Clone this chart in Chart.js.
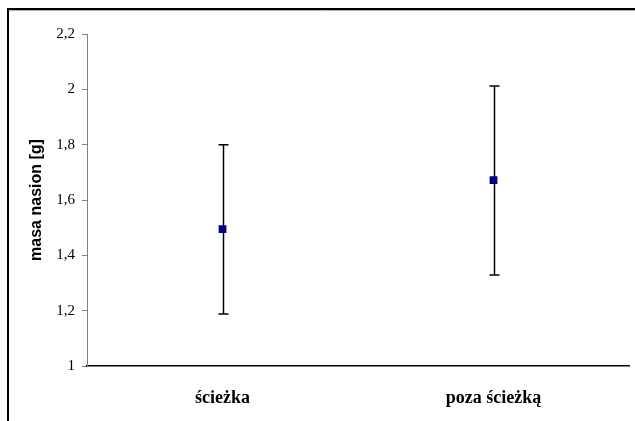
<!DOCTYPE html>
<html>
<head>
<meta charset="utf-8">
<script src="https://cdn.jsdelivr.net/npm/chart.js@4/dist/chart.umd.min.js"></script>
<style>
html,body{margin:0;padding:0;background:#fff;}
#wrap{width:635px;height:421px;position:relative;}
</style>
</head>
<body>
<div id="wrap"><canvas id="c" width="635" height="421"></canvas></div>
<script>
const categories = ['ścieżka', 'poza ścieżką'];
const means = [1.495, 1.672];
const lower = [1.188, 1.329];
const upper = [1.800, 2.012];
const yMin = 1, yMax = 2.2, yStep = 0.2;
const yTitle = 'masa nasion [g]';

const frame = {
  id: 'frame',
  afterDraw(chart) {
    const ctx = chart.ctx;
    ctx.save();
    ctx.strokeStyle = '#000';
    ctx.lineWidth = 2;
    ctx.beginPath();
    ctx.moveTo(8, 421);
    ctx.lineTo(8, 9);
    ctx.lineTo(635, 9);
    ctx.stroke();
    ctx.strokeStyle = '#b0b0b0';
    ctx.lineWidth = 1;
    ctx.beginPath();
    ctx.moveTo(9.5, 10.5);
    ctx.lineTo(635, 10.5);
    ctx.stroke();
    ctx.restore();
  }
};

const errorBars = {
  id: 'errorBars',
  beforeDatasetsDraw(chart) {
    const ctx = chart.ctx;
    const xs = chart.scales.x, ys = chart.scales.y;
    ctx.save();
    ctx.strokeStyle = '#000';
    ctx.lineWidth = 1.5;
    for (let i = 0; i < categories.length; i++) {
      const x = Math.round(xs.getPixelForValue(i)) + 0.5;
      const yl = ys.getPixelForValue(lower[i]);
      const yh = ys.getPixelForValue(upper[i]);
      ctx.beginPath();
      ctx.moveTo(x, yl); ctx.lineTo(x, yh);
      ctx.moveTo(x - 5, yl); ctx.lineTo(x + 5, yl);
      ctx.moveTo(x - 5, yh); ctx.lineTo(x + 5, yh);
      ctx.stroke();
    }
    ctx.restore();
  }
};

new Chart(document.getElementById('c'), {
  type: 'line',
  data: {
    labels: categories,
    datasets: [{
      data: means,
      showLine: false,
      pointStyle: 'rect',
      pointRadius: 5.5,
      pointHoverRadius: 5.5,
      pointBackgroundColor: '#000080',
      pointBorderColor: '#000080',
      pointBorderWidth: 0
    }]
  },
  options: {
    responsive: false,
    devicePixelRatio: 1,
    animation: false,
    events: [],
    layout: { padding: { top: 34, right: 6, left: 0, bottom: 0 } },
    plugins: { legend: { display: false }, tooltip: { enabled: false } },
    scales: {
      x: {
        type: 'category',
        offset: true,
        grid: { display: false, drawTicks: false },
        border: { display: true, color: '#000', width: 1.5 },
        ticks: {
          color: '#000',
          padding: 22,
          font: { family: 'Liberation Serif', size: 18, weight: 'bold' }
        },
        afterFit(s) { s.height = 55; }
      },
      y: {
        min: yMin, max: yMax,
        grid: { display: true, drawOnChartArea: false, drawTicks: true, tickLength: 5, color: '#808080', lineWidth: 1 },
        border: { display: true, color: '#808080', width: 1 },
        ticks: {
          stepSize: yStep,
          color: '#000',
          padding: 7,
          font: { family: 'Liberation Serif', size: 15 },
          callback: v => String(Number(v.toFixed(1))).replace('.', ',')
        },
        title: {
          display: true,
          text: yTitle,
          color: '#000',
          padding: { top: 27, bottom: 0 },
          font: { family: 'Liberation Sans', size: 16, weight: 'bold' }
        },
        afterFit(s) { s.width = 87; }
      }
    }
  },
  plugins: [frame, errorBars]
});
</script>
</body>
</html>
